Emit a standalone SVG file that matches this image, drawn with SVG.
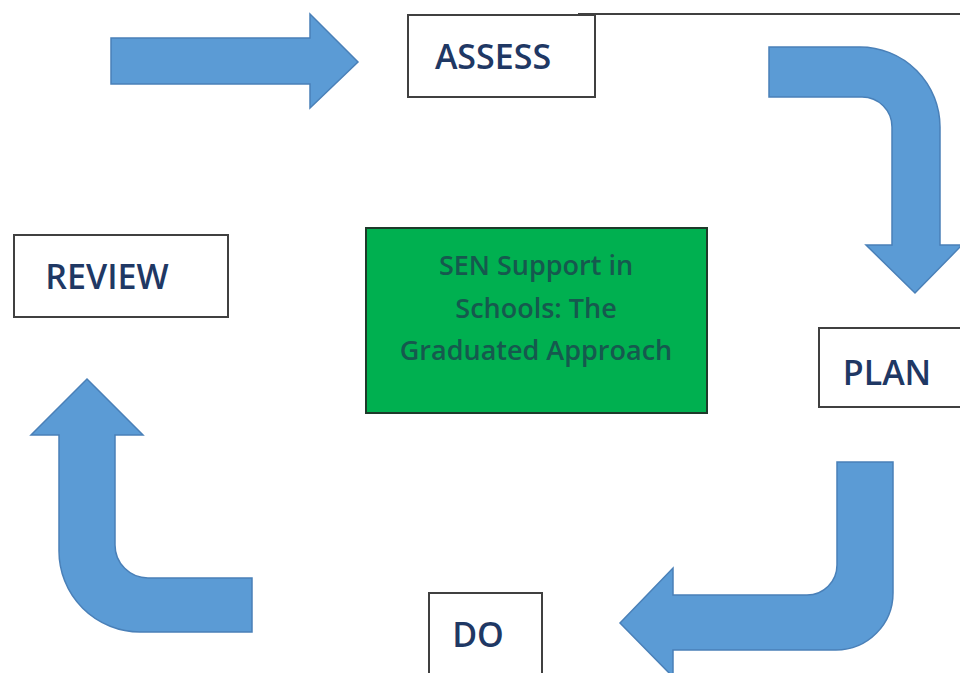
<svg xmlns="http://www.w3.org/2000/svg" width="960" height="673" viewBox="0 0 960 673">
<style>
.box{fill:#fff;stroke:#404040;stroke-width:2}
.lbl{font-family:"Open Sans","Liberation Sans",sans-serif;fill:#1f3864;text-anchor:middle;font-size:34px;font-weight:600}
.arr{fill:#5b9bd5;stroke:#4a80b8;stroke-width:1.5}
.title{font-family:"Open Sans","Liberation Sans",sans-serif;fill:#16594e;text-anchor:middle;font-size:27px;font-weight:600}
</style>
<rect width="960" height="673" fill="#fff"/>
<g id="connectors">
<path class="arr" d="M111,38 L310,38 L310,14 L358,62 L310,108 L310,84 L111,84 Z"/>
<path class="arr" d="M769,47 L860,47 A80,80 0 0 1 940,127 L940,245 L962,245 L915,293 L866,245 L892,245 L892,127 A30,30 0 0 0 862,97 L769,97 Z"/>
<path class="arr" d="M837,462 L893,462 L893,593 A57,57 0 0 1 836,650 L673,650 L673,677 L620,623 L673,568 L673,595 L807,595 A30,30 0 0 0 837,565 Z"/>
<path class="arr" d="M87,379 L143,435 L115,435 L115,545 A33,33 0 0 0 148,578 L252,578 L252,632 L140,632 A81,81 0 0 1 59,551 L59,435 L31,435 Z"/>
</g>
<line x1="578" y1="14" x2="960" y2="14" stroke="#404040" stroke-width="2"/>
<g id="assess">
<rect class="box" x="408" y="15" width="187" height="82"/>
<text class="lbl" x="493" y="69">ASSESS</text>
</g>
<g id="plan">
<rect class="box" x="819" y="328" width="150" height="79"/>
<text class="lbl" x="887" y="385">PLAN</text>
</g>
<g id="do">
<rect class="box" x="429" y="593" width="113" height="90"/>
<text class="lbl" x="478" y="647">DO</text>
</g>
<g id="review">
<rect class="box" x="14" y="235" width="214" height="82"/>
<text class="lbl" x="107" y="289">REVIEW</text>
</g>
<g id="center">
<rect x="366" y="228" width="341" height="185" fill="#00b050" stroke="#1e3a2a" stroke-width="2"/>
<text class="title" x="536" y="275">SEN Support in</text>
<text class="title" x="536" y="318">Schools: The</text>
<text class="title" x="536" y="360">Graduated Approach</text>
</g>
</svg>
